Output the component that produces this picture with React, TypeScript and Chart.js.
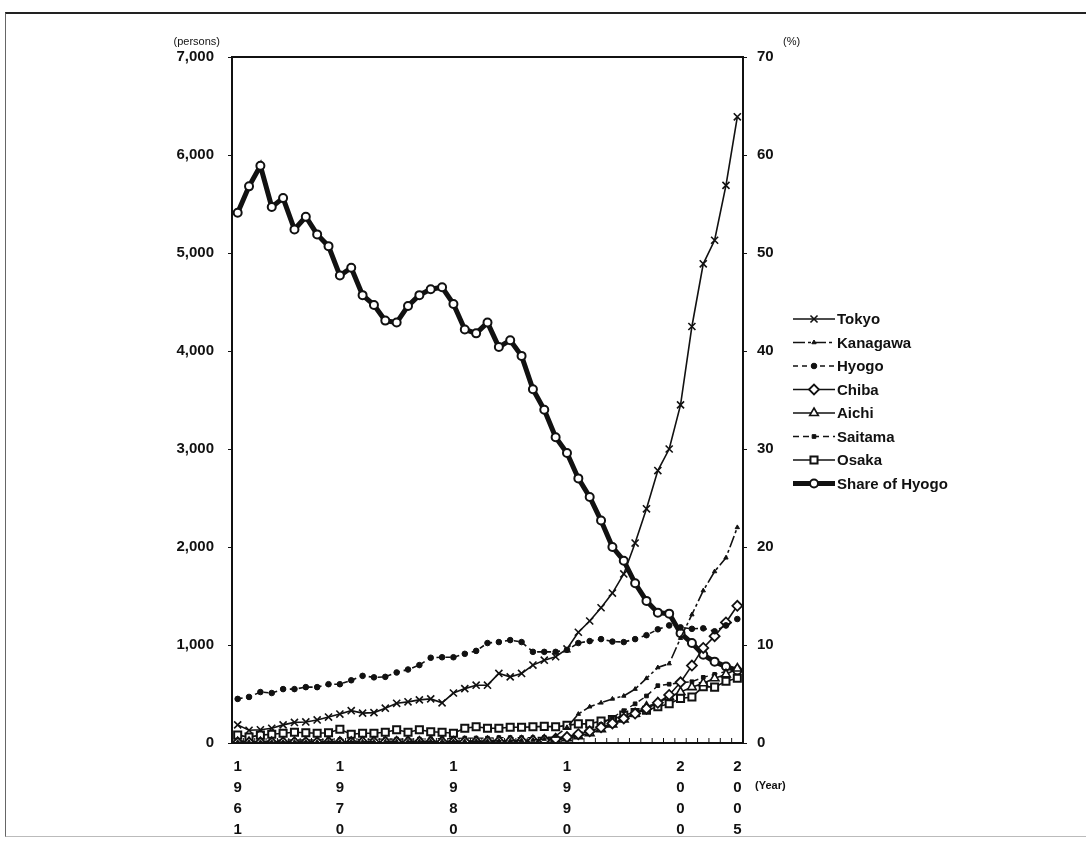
import React, { useEffect, useRef } from "react";
import { Chart, registerables } from "chart.js";
import { drawPoint } from "chart.js/helpers";

Chart.register(...registerables);

const YEARS: string[] = [
  "1961","1962","1963","1964","1965","1966","1967","1968","1969","1970",
  "1971","1972","1973","1974","1975","1976","1977","1978","1979","1980",
  "1981","1982","1983","1984","1985","1986","1987","1988","1989","1990",
  "1991","1992","1993","1994","1995","1996","1997","1998","1999","2000",
  "2001","2002","2003","2004","2005",
];
const TICK_YEARS: string[] = ["1961", "1970", "1980", "1990", "2000", "2005"];

const TOKYO: number[] = [
  185, 130, 135, 150, 185, 210, 215, 235, 265, 295,
  330, 305, 310, 355, 405, 420, 440, 450, 410, 510,
  555, 590, 590, 710, 675, 710, 795, 845, 880, 960,
  1130, 1245, 1380, 1530, 1725, 2040, 2390, 2780, 3000, 3450,
  4250, 4890, 5130, 5690, 6390,
];
const KANAGAWA: number[] = [
  8, 8, 8, 9, 9, 10, 10, 10, 11, 11,
  12, 12, 13, 13, 14, 14, 15, 15, 16, 16,
  18, 18, 20, 22, 24, 26, 30, 40, 70, 160,
  295, 370, 410, 450, 480, 550, 660, 770, 810, 1070,
  1310, 1555, 1750, 1890, 2200,
];
const HYOGO: number[] = [
  450, 470, 520, 510, 550, 550, 570, 570, 600, 600,
  640, 685, 670, 675, 720, 750, 795, 870, 875, 875,
  910, 940, 1020, 1030, 1050, 1030, 930, 930, 930, 950,
  1020, 1040, 1060, 1035, 1030, 1060, 1100, 1160, 1200, 1180,
  1165, 1170, 1140, 1200, 1265,
];
const CHIBA: number[] = [
  5, 5, 5, 5, 6, 6, 6, 6, 7, 7,
  7, 8, 8, 8, 9, 9, 10, 10, 10, 11,
  12, 12, 14, 16, 18, 20, 24, 30, 42, 60,
  90, 120, 160, 200, 250, 300, 350, 410, 490, 620,
  790, 970, 1090, 1230, 1400,
];
const AICHI: number[] = [
  6, 6, 6, 7, 7, 7, 8, 8, 8, 9,
  9, 10, 10, 10, 11, 11, 12, 12, 13, 13,
  14, 15, 16, 18, 20, 22, 26, 32, 40, 50,
  70, 100, 140, 190, 240, 300, 370, 410, 470, 520,
  570, 610, 660, 700, 760,
];
const SAITAMA: number[] = [
  20, 20, 25, 25, 30, 30, 30, 30, 35, 35,
  35, 35, 40, 40, 40, 40, 40, 45, 45, 45,
  50, 50, 50, 55, 55, 55, 55, 58, 58, 60,
  100, 130, 190, 260, 330, 400, 480, 585, 600, 615,
  625, 670, 700, 730, 770,
];
const OSAKA: number[] = [
  80, 60, 80, 90, 100, 110, 105, 100, 105, 140,
  90, 100, 100, 110, 135, 110, 135, 115, 110, 100,
  150, 165, 150, 150, 160, 160, 165, 170, 165, 180,
  195, 195, 225, 240, 285, 310, 335, 370, 400, 455,
  470, 575, 570, 630, 660,
];
const SHARE_HYOGO: number[] = [
  54.1, 56.8, 58.9, 54.7, 55.6, 52.4, 53.7, 51.9, 50.7, 47.7,
  48.5, 45.7, 44.7, 43.1, 42.9, 44.6, 45.7, 46.3, 46.5, 44.8,
  42.2, 41.8, 42.9, 40.4, 41.1, 39.5, 36.1, 34.0, 31.2, 29.6,
  27.0, 25.1, 22.7, 20.0, 18.6, 16.3, 14.5, 13.3, 13.2, 11.2,
  10.2, 9.0, 8.3, 7.8, 7.4,
];

const INK = "#111111";
const FONT = "'Liberation Sans', Arial, sans-serif";

const framePlugin = {
  id: "frameAndLegend",
  afterDraw(chart: any) {
    const { ctx, chartArea } = chart;
    const { left, right, top, bottom } = chartArea;
    ctx.save();
    ctx.strokeStyle = INK;
    ctx.lineWidth = 2;
    ctx.setLineDash([]);
    ctx.strokeRect(left, top, right - left, bottom - top);
    const xs = chart.scales.x;
    const step = xs.getPixelForTick(1) - xs.getPixelForTick(0);
    ctx.lineWidth = 1;
    for (let i = 0; i <= YEARS.length; i++) {
      const px = i < YEARS.length ? xs.getPixelForTick(i) - step / 2 : right;
      ctx.beginPath();
      ctx.moveTo(px, bottom);
      ctx.lineTo(px, bottom - 5);
      ctx.stroke();
    }
    ctx.fillStyle = INK;
    ctx.font = `11px ${FONT}`;
    ctx.textAlign = "right";
    ctx.textBaseline = "middle";
    ctx.fillText("(persons)", left - 12, top - 15);
    ctx.textAlign = "left";
    ctx.fillText("(%)", right + 40, top - 15);
    ctx.font = `bold 11px ${FONT}`;
    ctx.fillText("(Year)", right + 12, bottom + 43);

    const x0 = right + 50;
    const x1 = x0 + 42;
    const y0 = 319;
    const dy = 23.5;
    chart.data.datasets.forEach((ds: any, i: number) => {
      const y = y0 + i * dy;
      ctx.strokeStyle = ds.borderColor;
      ctx.lineWidth = ds.borderWidth;
      ctx.setLineDash(ds.borderDash || []);
      ctx.beginPath();
      ctx.moveTo(x0, y);
      ctx.lineTo(x1, y);
      ctx.stroke();
      ctx.setLineDash([]);
      ctx.fillStyle = ds.pointBackgroundColor;
      ctx.strokeStyle = ds.pointBorderColor;
      ctx.lineWidth = ds.pointBorderWidth;
      drawPoint(
        ctx,
        { pointStyle: ds.pointStyle, radius: ds.pointRadius, rotation: 0, borderWidth: ds.pointBorderWidth },
        (x0 + x1) / 2,
        y
      );
      ctx.fillStyle = INK;
      ctx.font = `bold 15px ${FONT}`;
      ctx.textAlign = "left";
      ctx.textBaseline = "middle";
      ctx.fillText(ds.label, x1 + 2, y + 1);
    });
    ctx.restore();
  },
};

export default function App() {
  const ref = useRef<HTMLCanvasElement | null>(null);

  useEffect(() => {
    if (!ref.current) return;
    const base = {
      borderColor: INK,
      pointBorderColor: INK,
      yAxisID: "y",
      tension: 0,
      clip: false as any,
    };
    const chart = new Chart(ref.current, {
      type: "line",
      data: {
        labels: YEARS,
        datasets: [
          { ...base, label: "Tokyo", data: TOKYO, borderWidth: 1.6, pointStyle: "crossRot", pointRadius: 5, pointBorderWidth: 1.6, pointBackgroundColor: INK },
          { ...base, label: "Kanagawa", data: KANAGAWA, clip: 1, borderWidth: 1.6, borderDash: [12, 3, 3, 3], pointStyle: "triangle", pointRadius: 2.5, pointBorderWidth: 1, pointBackgroundColor: INK },
          { ...base, label: "Hyogo", data: HYOGO, borderWidth: 1.6, borderDash: [5, 4], pointStyle: "circle", pointRadius: 2.8, pointBorderWidth: 1, pointBackgroundColor: INK },
          { ...base, label: "Chiba", data: CHIBA, clip: 1, borderWidth: 1.6, pointStyle: "rectRot", pointRadius: 5, pointBorderWidth: 1.8, pointBackgroundColor: "#ffffff" },
          { ...base, label: "Aichi", data: AICHI, clip: 1, borderWidth: 1.6, pointStyle: "triangle", pointRadius: 5, pointBorderWidth: 1.6, pointBackgroundColor: "#ffffff" },
          { ...base, label: "Saitama", data: SAITAMA, borderWidth: 1.4, borderDash: [6, 4], pointStyle: "rect", pointRadius: 2.6, pointBorderWidth: 1, pointBackgroundColor: INK },
          { ...base, label: "Osaka", data: OSAKA, borderWidth: 1.6, pointStyle: "rect", pointRadius: 5, pointBorderWidth: 2, pointBackgroundColor: "#ffffff" },
          { ...base, label: "Share of Hyogo", data: SHARE_HYOGO, yAxisID: "y2", borderWidth: 5, pointStyle: "circle", pointRadius: 4, pointBorderWidth: 2, pointBackgroundColor: "#ffffff" },
        ],
      },
      options: {
        animation: false,
        responsive: true,
        maintainAspectRatio: false,
        layout: { padding: { top: 57, left: 0, right: 0, bottom: 0 } },
        plugins: { legend: { display: false }, tooltip: { enabled: false } },
        scales: {
          x: {
            type: "category",
            offset: true,
            grid: { display: false, drawTicks: false },
            border: { display: false },
            ticks: {
              autoSkip: false,
              maxRotation: 0,
              minRotation: 0,
              padding: 14,
              color: INK,
              font: { family: FONT, size: 15, weight: "bold", lineHeight: 1.38 },
              callback: (_v: any, i: number) => (TICK_YEARS.includes(YEARS[i]) ? YEARS[i].split("") : ""),
            },
            afterFit: (s: any) => { s.height = 99; },
          },
          y: {
            position: "left",
            min: 0,
            max: 7000,
            grid: { drawOnChartArea: false, tickLength: 4, color: INK },
            border: { display: false },
            ticks: {
              stepSize: 1000,
              padding: 14,
              color: INK,
              font: { family: FONT, size: 15, weight: "bold" },
              callback: (v: any) => Number(v).toLocaleString("en-US"),
            },
            afterFit: (s: any) => { s.width = 232; },
          },
          y2: {
            position: "right",
            min: 0,
            max: 70,
            grid: { drawOnChartArea: false, tickLength: 4, color: INK },
            border: { display: false },
            ticks: {
              stepSize: 10,
              padding: 10,
              color: INK,
              font: { family: FONT, size: 15, weight: "bold" },
            },
            afterFit: (s: any) => { s.width = 343; },
          },
        },
      },
      plugins: [framePlugin],
    });
    return () => chart.destroy();
  }, []);

  return (
    <div style={{ position: "absolute", left: 0, top: 0, width: 1086, height: 842, background: "#fff", overflow: "hidden" }}>
      <div
        style={{
          position: "absolute",
          left: 5,
          top: 12,
          width: 1100,
          height: 822,
          borderTop: "2px solid #222",
          borderLeft: "1px solid #666",
          borderBottom: "1px solid #bbb",
        }}
      />
      <canvas ref={ref} style={{ position: "absolute", left: 0, top: 0 }} />
    </div>
  );
}
